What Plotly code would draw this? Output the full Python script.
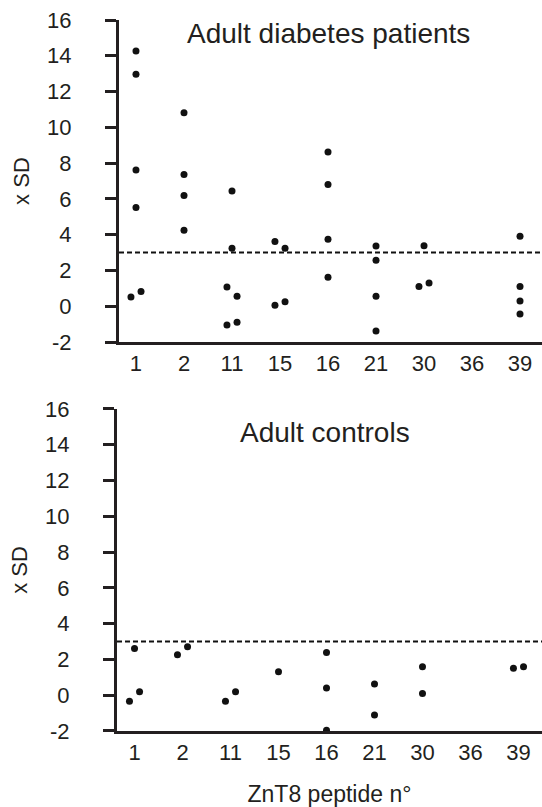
import plotly.graph_objects as go

# ---- data ----
peptides = ["1", "2", "11", "15", "16", "21", "30", "36", "39"]

# Adult diabetes patients
diab_peptide = ["1", "1", "1", "1", "1", "1",
                "2", "2", "2", "2",
                "11", "11", "11", "11", "11", "11",
                "15", "15", "15", "15",
                "16", "16", "16", "16",
                "21", "21", "21", "21",
                "30", "30", "30",
                "39", "39", "39", "39"]
diab_sd = [14.27, 12.97, 7.62, 5.52, 0.52, 0.82,
           10.81, 7.36, 6.19, 4.25,
           6.45, 3.24, 1.08, 0.56, -1.04, -0.89,
           3.62, 3.24, 0.06, 0.26,
           8.63, 6.80, 3.75, 1.62,
           3.37, 2.57, 0.56, -1.38,
           3.39, 1.10, 1.30,
           3.91, 1.10, 0.30, -0.43]
diab_side = [0, 0, 0, 0, -1, 1,
             0, 0, 0, 0,
             0, 0, -1, 1, -1, 1,
             -1, 1, -1, 1,
             0, 0, 0, 0,
             0, 0, 0, 0,
             0, -1, 1,
             0, 0, 0, 0]

# Adult controls
ctrl_peptide = ["1", "1", "1",
                "2", "2",
                "11", "11",
                "15",
                "16", "16", "16",
                "21", "21",
                "30", "30",
                "39", "39"]
ctrl_sd = [2.61, -0.34, 0.19,
           2.26, 2.71,
           -0.34, 0.19,
           1.31,
           2.39, 0.41, -1.96,
           0.63, -1.10,
           1.59, 0.09,
           1.51, 1.59]
ctrl_side = [0, -1, 1,
             -1, 1,
             -1, 1,
             0,
             0, 0, 0,
             0, 0,
             0, 0,
             -1, 1]

cutoff = 3
y_ticks = [-2, 0, 2, 4, 6, 8, 10, 12, 14, 16]
y_ticktext = ["-2", "0", "2", "4", "6", "8", "10", "12", "14", "16"]
panel_titles = ["Adult diabetes patients", "Adult controls"]

# ---- styling ----
JIT = 0.105
INK = "#231f20"
FONT = "Liberation Sans, Arial, Helvetica, sans-serif"


def xpos(cats, sides):
    return [peptides.index(c) + s * JIT for c, s in zip(cats, sides)]


fig = go.Figure()
fig.add_trace(go.Scatter(x=xpos(diab_peptide, diab_side), y=diab_sd, mode="markers",
                         marker=dict(size=7, color="#111111"), xaxis="x", yaxis="y",
                         showlegend=False, cliponaxis=False))
fig.add_trace(go.Scatter(x=xpos(ctrl_peptide, ctrl_side), y=ctrl_sd, mode="markers",
                         marker=dict(size=7, color="#111111"), xaxis="x2", yaxis="y2",
                         showlegend=False, cliponaxis=True))

xcommon = dict(tickmode="array", tickvals=list(range(len(peptides))),
               ticktext=peptides, showgrid=False, zeroline=False, showline=True,
               linecolor=INK, linewidth=3, ticks="", ticklabelstandoff=0,
               tickfont=dict(size=22, color=INK, family=FONT))
ycommon = dict(range=[-2, 16], tickmode="array", tickvals=y_ticks, ticktext=y_ticktext,
               showgrid=False, zeroline=False, showline=True, linecolor=INK, linewidth=3,
               ticks="outside", ticklen=11, tickwidth=3, tickcolor=INK,
               ticklabelstandoff=29, tickfont=dict(size=22, color=INK, family=FONT),
               title=dict(text="x SD", font=dict(size=22, color=INK, family=FONT), standoff=12))

L = 117
W = 542 - L
fig.update_layout(
    width=542, height=807,
    margin=dict(l=L, r=0, t=20, b=76),
    plot_bgcolor="white", paper_bgcolor="white",
    xaxis=dict(**xcommon, range=[-0.354, 8.458], domain=[2 / W, 1.0], anchor="y"),
    yaxis=dict(**ycommon, domain=[0.547, 1.0], anchor="x"),
    xaxis2=dict(**xcommon, range=[-0.365, 8.49], domain=[0.0, 1.0], anchor="y2",
                title=dict(text="ZnT8 peptide n°", font=dict(size=23, color=INK, family=FONT), standoff=24)),
    yaxis2=dict(**ycommon, domain=[0.0, 0.453], anchor="x2"),
)

for xr, yr in [("x domain", "y"), ("x2 domain", "y2")]:
    fig.add_shape(type="line", xref=xr, yref=yr, x0=0, x1=1, y0=cutoff, y1=cutoff,
                  line=dict(color="#111111", width=2, dash="5px,3px"))

fig.add_annotation(text=panel_titles[0], xref="x", yref="y", x=4.0, y=15.26,
                   showarrow=False, font=dict(size=28, color=INK, family=FONT))
fig.add_annotation(text=panel_titles[1], xref="x2", yref="y2", x=3.96, y=14.7,
                   showarrow=False, font=dict(size=28, color=INK, family=FONT))

fig.write_html("out.html", config={"displayModeBar": False},
               post_script="document.body.style.margin='0';document.body.style.padding='0';")
